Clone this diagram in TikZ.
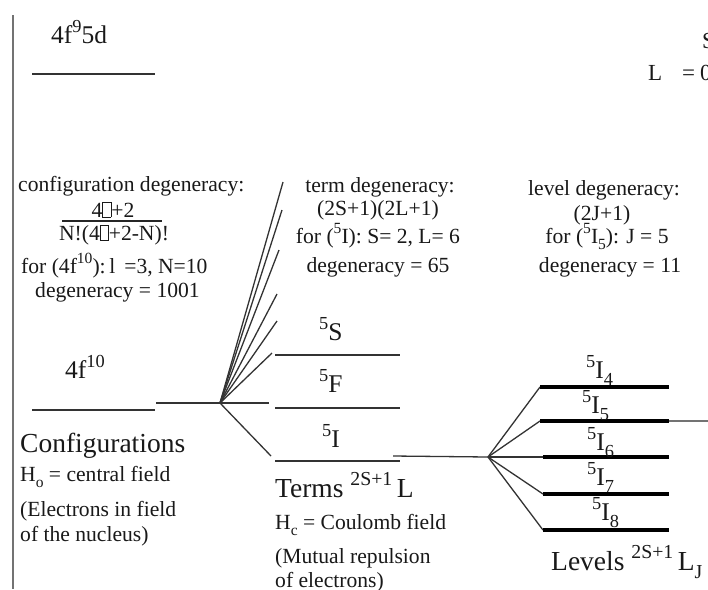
\documentclass[tikz,border=0pt]{standalone}
\usepackage{fontspec}
\setmainfont{Liberation Serif}
\newcommand{\gbox}{{\setlength\fboxsep{0pt}\setlength\fboxrule{0.4pt}\fbox{\rule{0pt}{0.68em}\hspace{0.38em}}}}
\newcommand{\sps}[1]{\raisebox{0.42em}{\scalebox{0.72}{#1}}}
\newcommand{\sbs}[1]{\raisebox{-0.3em}{\scalebox{0.72}{#1}}}
\begin{document}
\begin{tikzpicture}[x=1pt,y=-1pt,
  lvl/.style={draw=black!80, line width=1.4pt},
  thick lvl/.style={draw=black, line width=4pt},
  conn/.style={draw=black!80, line width=1.3pt},
  txt/.style={inner sep=0pt, font=\fontsize{21.6}{24}\selectfont, text=black!90},
  big/.style={inner sep=0pt, font=\fontsize{27.5}{30}\selectfont, text=black!90},
  lab/.style={inner sep=0pt, font=\fontsize{25.5}{28}\selectfont, text=black!90}]
\useasboundingbox (0,0) rectangle (708,589);
\fill[white] (0,0) rectangle (708,589);
% frame line
\coordinate (v1) at (13,15); \coordinate (v2) at (13,589);
\draw[draw=black!55, line width=1.5pt] (v1) -- (v2);
% configurations
\coordinate (c9a) at (32,74); \coordinate (c9b) at (155,74);
\coordinate (cfa) at (32,410); \coordinate (cfb) at (155,410);
\coordinate (cfx) at (156,403); \coordinate (fo) at (220,403); \coordinate (fend) at (269,403);
\draw[lvl] (c9a) -- (c9b);
\draw[lvl] (cfa) -- (cfb);
\draw[conn] (cfx) -- (fend);
% terms
\coordinate (Sa) at (275,355); \coordinate (Sb) at (400,355);
\coordinate (Fa) at (275,408); \coordinate (Fb) at (400,408);
\coordinate (Ia) at (275,461); \coordinate (Ib) at (400,461);
\draw[lvl] (Sa) -- (Sb);
\draw[lvl] (Fa) -- (Fb);
\draw[lvl] (Ia) -- (Ib);
% fan
\coordinate (t1) at (283,182);
\coordinate (t2) at (282,210);
\coordinate (t3) at (279,250);
\coordinate (t4) at (277,294);
\coordinate (t5) at (277,321);
\coordinate (t6) at (272,353);
\coordinate (tI) at (271,456);
\foreach \t in {t1,t2,t3,t4,t5,t6,tI} \draw[conn] (fo) -- (\t);
% levels
\coordinate (ic1) at (393,456); \coordinate (lo) at (488,457);
\draw[conn] (ic1) -- (lo);
\coordinate (L4a) at (540,387); \coordinate (L4b) at (669,387);
\coordinate (L5a) at (540,421); \coordinate (L5b) at (669,421); \coordinate (L5c) at (708,421);
\coordinate (L6a) at (543,457); \coordinate (L6b) at (669,457);
\coordinate (L7a) at (543,494); \coordinate (L7b) at (669,494);
\coordinate (L8a) at (543,530); \coordinate (L8b) at (669,530);
\foreach \a in {L4a,L5a,L6a,L7a,L8a} \draw[conn] (lo) -- (\a);
\draw[draw=black!55, line width=1.3pt] (L5b) -- (L5c);
\draw[thick lvl] (L4a) -- (L4b);
\draw[thick lvl] (L5a) -- (L5b);
\draw[thick lvl] (L6a) -- (L6b);
\draw[thick lvl] (L7a) -- (L7b);
\draw[thick lvl] (L8a) -- (L8b);
% top-left texts
\node[lab, anchor=base west] (n95d) at (51,43) {4f\sps{9}5d};
\node[txt, anchor=base west, font=\fontsize{23}{26}\selectfont] (nS) at (702,48) {S};
\node[txt, anchor=base west, font=\fontsize{23}{26}\selectfont] (nL) at (648,80) {L};
\node[txt, anchor=base west, font=\fontsize{23}{26}\selectfont] (nEq) at (682,80) {=};
\node[txt, anchor=base west, font=\fontsize{23}{26}\selectfont] (nZ) at (700,80) {0};
% configuration degeneracy
\node[txt, anchor=base west] (cdeg) at (18,191) {configuration degeneracy:};
\node[txt, anchor=base] (cnum) at (113,217) {4\gbox+2};
\coordinate (fb1) at (62,221); \coordinate (fb2) at (162,221);
\draw[draw=black!85, line width=1.1pt] (fb1) -- (fb2);
\node[txt, anchor=base] (cden) at (114,240) {N!(4\gbox+2-N)!};
\node[txt, anchor=base west] (cfor) at (21,273) {for (4f\sps{10}):\,l\ \,=3, N=10};
\node[txt, anchor=base west] (cd1001) at (35,297) {degeneracy = 1001};
% term degeneracy
\node[txt, anchor=base] (tdeg) at (380,192) {term degeneracy:};
\node[txt, anchor=base] (tfm) at (378,215) {(2S+1)(2L+1)};
\node[txt, anchor=base] (tfor) at (378,243) {for (\sps{5}I): S= 2, L= 6};
\node[txt, anchor=base] (td65) at (378,272) {degeneracy = 65};
% level degeneracy
\node[txt, anchor=base] (ldeg) at (604,195) {level degeneracy:};
\node[txt, anchor=base] (lfm) at (602,220) {(2J+1)};
\node[txt, anchor=base] (lfor) at (607,243) {for (\sps{5}I\sbs{5}): J = 5};
\node[txt, anchor=base] (ld11) at (610,272) {degeneracy = 11};
% configuration labels
\node[lab, anchor=base west] (n410) at (65,378) {4f\sps{10}};
\node[big, anchor=base west] (conf) at (20,452) {Configurations};
\node[txt, anchor=base west] (ho) at (20,481) {H\sbs{o} = central field};
\node[txt, anchor=base west] (el1) at (20,516) {(Electrons in field};
\node[txt, anchor=base west] (el2) at (20,541) {of the nucleus)};
% term labels
\node[lab, anchor=base west] (n5S) at (319,340) {\sps{5}S};
\node[lab, anchor=base west] (n5F) at (319,392) {\sps{5}F};
\node[lab, anchor=base west] (n5I) at (322,447) {\sps{5}I};
\node[big, anchor=base west] (terms) at (275,497) {Terms \sps{2S+1}\,L};
\node[txt, anchor=base west] (hc) at (275,529) {H\sbs{c} = Coulomb field};
\node[txt, anchor=base west] (mu1) at (275,563) {(Mutual repulsion};
\node[txt, anchor=base west] (mu2) at (275,587) {of electrons)};
% level labels
\node[lab, anchor=base west] (l4) at (586,378) {\sps{5}I\sbs{4}};
\node[lab, anchor=base west] (l5) at (582,413) {\sps{5}I\sbs{5}};
\node[lab, anchor=base west] (l6) at (587,450) {\sps{5}I\sbs{6}};
\node[lab, anchor=base west] (l7) at (587,485) {\sps{5}I\sbs{7}};
\node[lab, anchor=base west] (l8) at (592,520) {\sps{5}I\sbs{8}};
\node[big, anchor=base west] (levels) at (551,570) {Levels \sps{2S+1}\,L\sbs{J}};
\end{tikzpicture}
\end{document}
